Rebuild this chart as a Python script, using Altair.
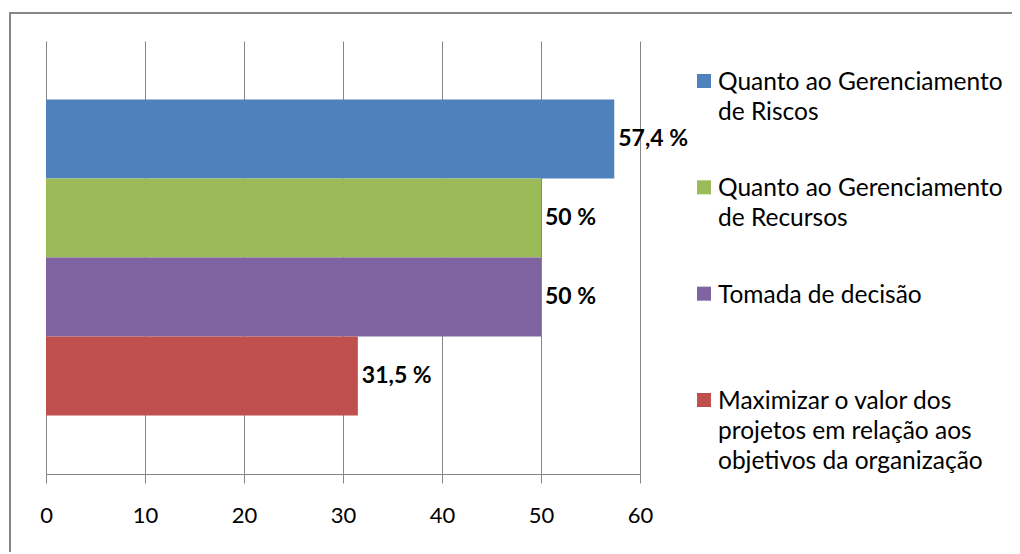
import altair as alt
import pandas as pd

categories = [
    "Quanto ao Gerenciamento de Riscos",
    "Quanto ao Gerenciamento de Recursos",
    "Tomada de decisão",
    "Maximizar o valor dos projetos em relação aos objetivos da organização",
]
values = [57.4, 50, 50, 31.5]
value_labels = ["57,4 %", "50 %", "50 %", "31,5 %"]
legend_lines = [
    "Quanto ao Gerenciamento\nde Riscos",
    "Quanto ao Gerenciamento\nde Recursos",
    "Tomada de decisão",
    "Maximizar o valor dos\nprojetos em relação aos\nobjetivos da organização",
]
colors = ["#4F81BD", "#9BBB59", "#8064A2", "#C0504D"]
x_ticks = [0, 10, 20, 30, 40, 50, 60]

df = pd.DataFrame({
    "cat": categories,
    "value": values,
    "label": value_labels,
    "legend": legend_lines,
})

GRAY = "#868686"
FONT = "Lato"

color = alt.Color("cat:N", scale=alt.Scale(domain=categories, range=colors), legend=None)

y_bar = alt.Y("cat:N", sort=categories, axis=None,
              scale=alt.Scale(paddingInner=0, paddingOuter=0.74))

bars = alt.Chart(df).mark_bar().encode(
    x=alt.X("value:Q",
            scale=alt.Scale(domain=[0, 60], nice=False),
            axis=alt.Axis(values=x_ticks, title=None, grid=True, gridColor=GRAY,
                          gridWidth=1, domainColor=GRAY, domainWidth=1, tickColor=GRAY,
                          tickSize=9, labelFont=FONT, labelFontSize=22,
                          labelFlush=False, labelColor="#000000", labelPadding=22)),
    y=y_bar,
    color=color,
)

bar_text = alt.Chart(df).mark_text(
    align="left", baseline="middle", dx=4, font=FONT, fontSize=23,
    fontWeight="bold", color="#000000"
).encode(
    x="value:Q",
    y=y_bar,
    text="label:N",
)

plot = alt.layer(bars, bar_text)

y_leg = alt.Y("cat:N", sort=categories, axis=None,
              scale=alt.Scale(type="point", padding=0, range=[40, 359]))

leg_sq = alt.Chart(df).mark_square(size=196, opacity=1, strokeWidth=0).encode(
    x=alt.value(658),
    y=y_leg,
    color=color,
)

leg_text = alt.Chart(df).mark_text(
    align="left", baseline="top", dy=-10, lineBreak="\n", lineHeight=30,
    font=FONT, fontSize=24.5, color="#000000"
).encode(
    x=alt.value(672),
    y=y_leg,
    text="legend:N",
)

legend = alt.layer(leg_sq, leg_text)

frame_data = alt.Data(values=[{"k": 1}])
frame_left = alt.Chart(frame_data).mark_rule(color=GRAY, strokeWidth=2).encode(
    x=alt.value(-36), y=alt.value(-28), y2=alt.value(520)
)
frame_top = alt.Chart(frame_data).mark_rule(color=GRAY, strokeWidth=2).encode(
    x=alt.value(-37), x2=alt.value(980), y=alt.value(-28)
)

chart = alt.layer(frame_left, frame_top, plot, legend).resolve_scale(
    y="independent"
).properties(
    width=594,
    height=433,
    autosize=alt.AutoSizeParams(type="none"),
    padding={"left": 38, "top": 33, "right": 372, "bottom": 78},
    background="#ffffff",
).configure_view(stroke=None)

chart.save("out.html", embed_options={"renderer": "svg", "actions": False})
